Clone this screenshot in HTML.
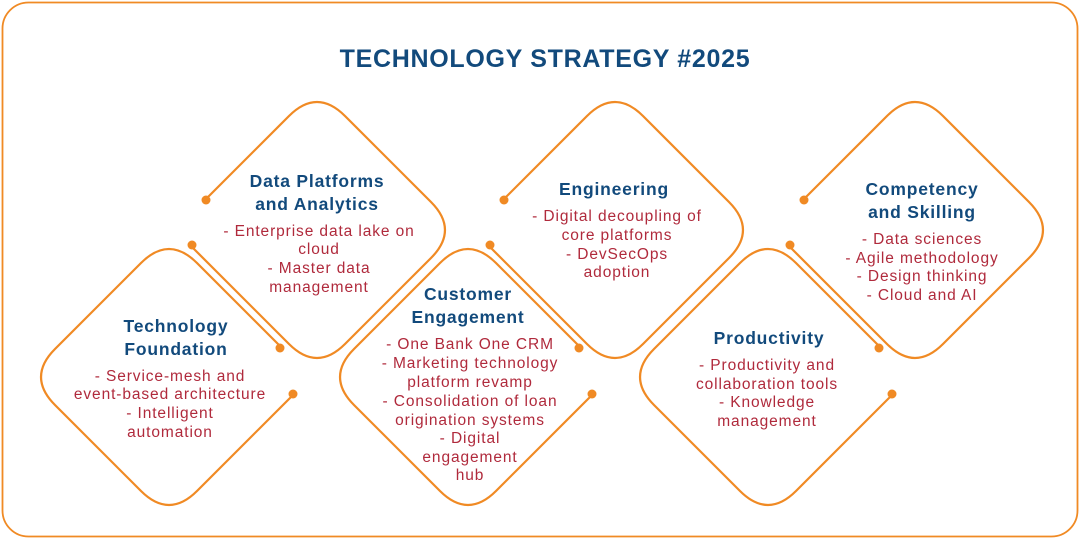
<!DOCTYPE html>
<html><head><meta charset="utf-8"><style>
html,body{margin:0;padding:0;background:#fff;}
svg{display:block;}
.t{font-family:"Liberation Sans",sans-serif;font-weight:bold;fill:#124a7c;text-anchor:middle;letter-spacing:0.7px;}
.h{font-family:"Liberation Sans",sans-serif;font-weight:bold;fill:#124a7c;font-size:17.5px;text-anchor:middle;letter-spacing:0.8px;}
.b{font-family:"Liberation Sans",sans-serif;fill:#b02a3c;font-size:15.5px;text-anchor:middle;letter-spacing:0.9px;}
.d{fill:none;stroke:#f08a24;stroke-width:2.2;}
.o{fill:#f08a24;}
</style></head><body>
<svg width="1080" height="539" viewBox="0 0 1080 539">
<rect x="2.5" y="2.5" width="1075" height="534" rx="26" fill="none" stroke="#f08a24" stroke-width="1.8"/>
<text class="t" x="545" y="67" font-size="25">TECHNOLOGY STRATEGY #2025</text>

<g>
<path class="d" d="M206,199 L289,116 Q317,88 345,116 L431,202 Q459,230 431,258 L345,344 Q317,372 289,344 L191,246"/>
<circle class="o" cx="206" cy="200" r="4.5"/><circle class="o" cx="192" cy="245" r="4.5"/>
</g>
<g transform="translate(298,0)">
<path class="d" d="M206,199 L289,116 Q317,88 345,116 L431,202 Q459,230 431,258 L345,344 Q317,372 289,344 L191,246"/>
<circle class="o" cx="206" cy="200" r="4.5"/><circle class="o" cx="192" cy="245" r="4.5"/>
</g>
<g transform="translate(598,0)">
<path class="d" d="M206,199 L289,116 Q317,88 345,116 L431,202 Q459,230 431,258 L345,344 Q317,372 289,344 L191,246"/>
<circle class="o" cx="206" cy="200" r="4.5"/><circle class="o" cx="192" cy="245" r="4.5"/>
</g>

<g>
<path class="d" d="M281,347 L197,263 Q169,235 141,263 L55,349 Q27,377 55,405 L141,491 Q169,519 197,491 L294,394"/>
<circle class="o" cx="280" cy="348" r="4.5"/><circle class="o" cx="293" cy="394" r="4.5"/>
</g>
<g transform="translate(299,0)">
<path class="d" d="M281,347 L197,263 Q169,235 141,263 L55,349 Q27,377 55,405 L141,491 Q169,519 197,491 L294,394"/>
<circle class="o" cx="280" cy="348" r="4.5"/><circle class="o" cx="293" cy="394" r="4.5"/>
</g>
<g transform="translate(599,0)">
<path class="d" d="M281,347 L197,263 Q169,235 141,263 L55,349 Q27,377 55,405 L141,491 Q169,519 197,491 L294,394"/>
<circle class="o" cx="280" cy="348" r="4.5"/><circle class="o" cx="293" cy="394" r="4.5"/>
</g>

<text class="h" x="317" y="187">Data Platforms</text>
<text class="h" x="317" y="210">and Analytics</text>
<text class="b" x="319" y="236">- Enterprise data lake on</text>
<text class="b" x="319" y="254">cloud</text>
<text class="b" x="319" y="273">- Master data</text>
<text class="b" x="319" y="292">management</text>

<text class="h" x="176" y="332">Technology</text>
<text class="h" x="176" y="355">Foundation</text>
<text class="b" x="170" y="381">- Service-mesh and</text>
<text class="b" x="170" y="399">event-based architecture</text>
<text class="b" x="170" y="418">- Intelligent</text>
<text class="b" x="170" y="437">automation</text>

<text class="h" x="468" y="300">Customer</text>
<text class="h" x="468" y="323">Engagement</text>
<text class="b" x="470" y="349">- One Bank One CRM</text>
<text class="b" x="470" y="368">- Marketing technology</text>
<text class="b" x="470" y="387">platform revamp</text>
<text class="b" x="470" y="406">- Consolidation of loan</text>
<text class="b" x="470" y="425">origination systems</text>
<text class="b" x="470" y="443">- Digital</text>
<text class="b" x="470" y="462">engagement</text>
<text class="b" x="470" y="480">hub</text>

<text class="h" x="614" y="195">Engineering</text>
<text class="b" x="617" y="221">- Digital decoupling of</text>
<text class="b" x="617" y="240">core platforms</text>
<text class="b" x="617" y="259">- DevSecOps</text>
<text class="b" x="617" y="277">adoption</text>

<text class="h" x="769" y="344">Productivity</text>
<text class="b" x="767" y="370">- Productivity and</text>
<text class="b" x="767" y="389">collaboration tools</text>
<text class="b" x="767" y="407">- Knowledge</text>
<text class="b" x="767" y="426">management</text>

<text class="h" x="922" y="195">Competency</text>
<text class="h" x="922" y="218">and Skilling</text>
<text class="b" x="922" y="244">- Data sciences</text>
<text class="b" x="922" y="263">- Agile methodology</text>
<text class="b" x="922" y="281">- Design thinking</text>
<text class="b" x="922" y="300">- Cloud and AI</text>
</svg>
</body></html>
